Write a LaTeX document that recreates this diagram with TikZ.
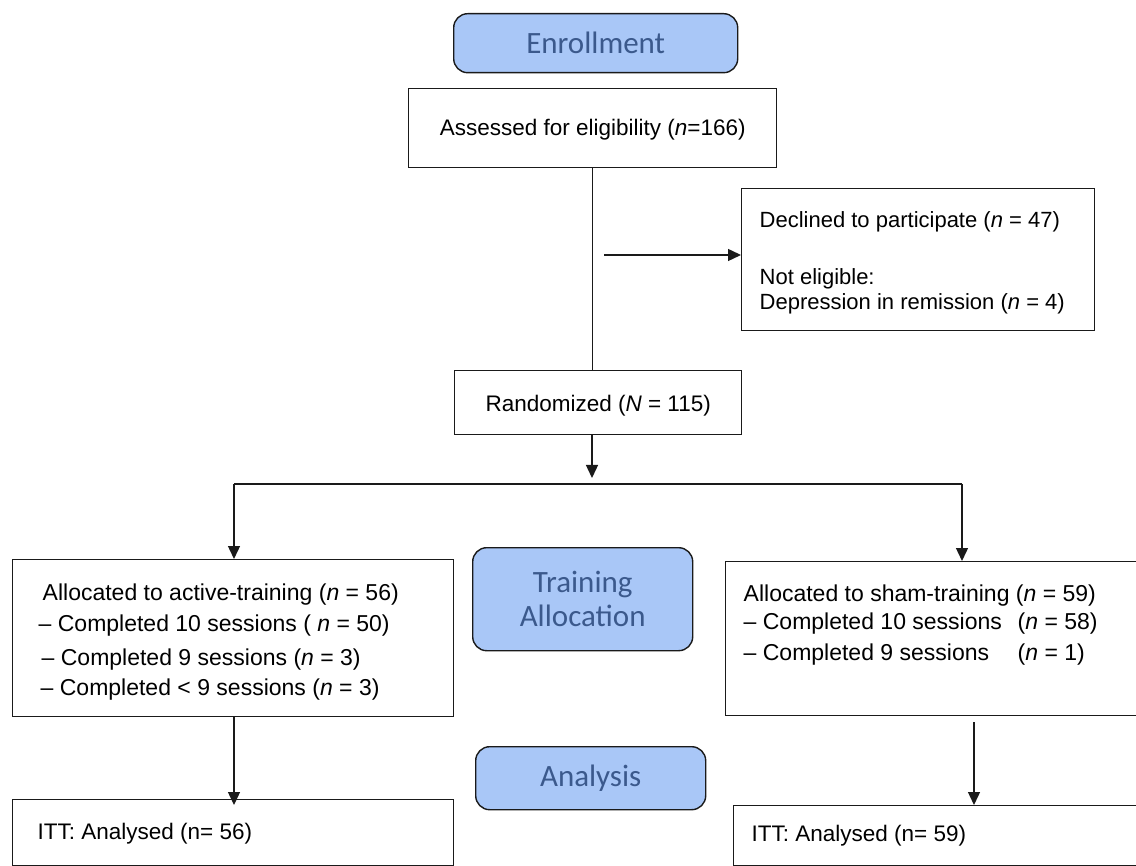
\documentclass[tikz,border=0pt]{standalone}
\usepackage{fontspec}
\setmainfont{Liberation Sans}
\newfontfamily\calib{Carlito}
\usetikzlibrary{arrows.meta}
\definecolor{hdrfill}{HTML}{A9C7F7}
\definecolor{hdrtext}{HTML}{3B598C}
\definecolor{edgecol}{HTML}{1A1A1A}
% width, height, left pad, first baseline, content
\newcommand{\bt}[5]{\parbox[c][#2][t]{#1}{\leftskip=#3\relax\rule{0pt}{#4}#5}}
\tikzset{
  plain/.style={draw=edgecol, line width=1.4pt, inner sep=0pt, anchor=north west,
    font=\fontsize{22.5}{27}\selectfont},
  hdr/.style={draw=edgecol, line width=1.4pt, fill=hdrfill, rounded corners=14pt,
    text=hdrtext, font=\calib\fontsize{31}{34}\selectfont, align=center,
    inner sep=0pt, anchor=north west},
  conn/.style={draw=edgecol, line width=1.4pt},
  arr/.style={conn, -{Triangle[length=13pt,width=12pt]}},
}
\begin{document}
\begin{tikzpicture}[x=1pt, y=-1pt]
\useasboundingbox (0,0) rectangle (1136,866);
\clip (0,0) rectangle (1136,866);

% headers
\node[hdr, minimum width=284pt, minimum height=59pt] (enr) at (453,13) {Enrollment};
\node[hdr, minimum width=220pt, minimum height=103pt] (tra) at (472,547) {Training\\Allocation};
\node[hdr, minimum width=230pt, minimum height=63pt] (ana) at (475,746) {Analysis};

% boxes
\node[plain] (ass) at (408,88) {\bt{368pt}{79pt}{0pt}{47pt}{\centering Assessed for eligibility (\textit{n}=166)}};
\node[plain, font=\fontsize{22}{25}\selectfont] (dec) at (741,188) {\bt{353pt}{142pt}{18pt}{39pt}{Declined to participate (\textit{n} = 47)\\[32pt]Not eligible:\\Depression in remission (\textit{n} = 4)}};
\node[plain] (rnd) at (454,370) {\bt{287pt}{64pt}{0pt}{41pt}{\centering Randomized (\textit{N} = 115)}};
\node[plain, font=\fontsize{23}{27}\selectfont] (la) at (12,559) {\bt{441pt}{157pt}{26pt}{41pt}{\hspace*{4pt}Allocated to active-training (\textit{n} = 56)\\[4pt]– Completed 10 sessions ( \textit{n} = 50)\\[7pt]\hspace*{3pt}– Completed 9 sessions (\textit{n} = 3)\\[3pt]\hspace*{2pt}– Completed < 9 sessions (\textit{n} = 3)}};
\node[plain, font=\fontsize{23}{27}\selectfont] (ra) at (725,561) {\bt{420pt}{154pt}{18pt}{40pt}{Allocated to sham-training (\textit{n} = 59)\\[1pt]\makebox[274pt][l]{– Completed 10 sessions}(\textit{n} = 58)\\[4pt]\makebox[274pt][l]{– Completed 9 sessions}(\textit{n} = 1)}};
\node[plain] (lan) at (12,799) {\bt{441pt}{66pt}{25pt}{40pt}{ITT: Analysed (n= 56)}};
\node[plain] (rgt) at (733,805) {\bt{410pt}{60pt}{18pt}{36pt}{ITT: Analysed (n= 59)}};

% connectors
\coordinate (dstart) at (604,255);
\coordinate (rtip) at (592,478);
\coordinate (sl) at (234,484);
\coordinate (sr) at (962,484);
\coordinate (t1) at (535,484);
\coordinate (t2) at (662,484);
\coordinate (lt) at (234,805);
\coordinate (rs) at (974,722);

\draw[conn] (ass.south) -- (ass.south |- rnd.north);
\draw[arr] (dstart) -- (dstart -| dec.west);
\draw[arr] (rnd.south -| rtip) -- (rtip);
\draw[conn] (sl) -- (sr);
\draw[conn, line width=2.2pt] (t1) -- (t2);
\draw[arr] (sl) -- (sl |- la.north);
\draw[arr] (sr) -- (sr |- ra.north);
\draw[arr] (sl |- la.south) -- (lt);
\draw[arr] (rs) -- (rs |- rgt.north);
\end{tikzpicture}
\end{document}
